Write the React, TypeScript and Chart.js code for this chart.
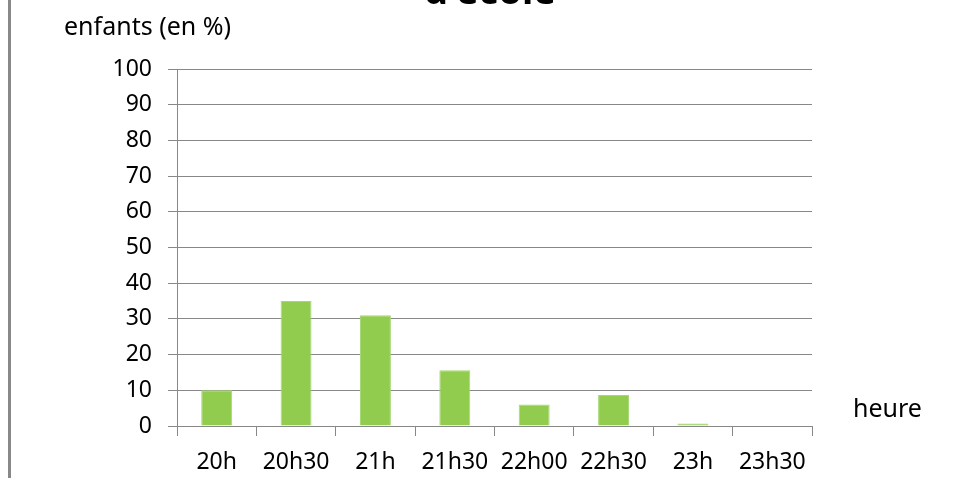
import React, { useEffect, useRef } from "react";
import { Chart, registerables } from "chart.js";

Chart.register(...registerables);

const categories = ["20h", "20h30", "21h", "21h30", "22h00", "22h30", "23h", "23h30"];
const values = [10, 35, 31, 15.6, 6, 8.7, 0.7, 0];
const yTicks = [0, 10, 20, 30, 40, 50, 60, 70, 80, 90, 100];
const titleText = "d'école";
const yTitle = "enfants (en %)";
const xTitle = "heure";

const FONT = "'Noto Sans', sans-serif";
const GRID = "#888888";

const decorPlugin = {
  id: "decor",
  afterDraw(chart: any) {
    const ctx = chart.ctx;
    ctx.save();
    // left border
    ctx.fillStyle = "#888888";
    ctx.fillRect(8, 0, 3, chart.height);
    // title (cut off at top)
    ctx.fillStyle = "#000000";
    ctx.font = `bold 38px ${FONT}`;
    ctx.textAlign = "center";
    ctx.textBaseline = "alphabetic";
    ctx.fillText(titleText, 490, 4);
    // axis titles
    ctx.font = `25px ${FONT}`;
    ctx.textAlign = "left";
    ctx.textBaseline = "middle";
    ctx.fillText(yTitle, 64, 28);
    ctx.fillText(xTitle, 853, 410);
    ctx.restore();
  },
};

export default function App() {
  const ref = useRef<HTMLCanvasElement>(null);
  useEffect(() => {
    if (!ref.current) return;
    const chart = new Chart(ref.current, {
      type: "bar",
      data: {
        labels: categories,
        datasets: [
          {
            data: values,
            backgroundColor: "#92CC4E",
            borderColor: "#A6D876",
            borderWidth: 1,
            barPercentage: 0.39,
            categoryPercentage: 1,
          },
        ],
      },
      options: {
        animation: false,
        responsive: false,
        maintainAspectRatio: false,
        layout: { padding: { left: 0, right: 146, top: 69, bottom: 0 } },
        plugins: {
          legend: { display: false },
          tooltip: { enabled: false },
          title: { display: false },
        },
        scales: {
          x: {
            offset: true,
            grid: {
              display: true,
              offset: true,
              drawOnChartArea: false,
              drawTicks: true,
              tickLength: 10,
              color: GRID,
              lineWidth: 1,
            },
            border: { display: true, color: GRID, width: 1 },
            ticks: {
              color: "#000000",
              font: { family: FONT, size: 23 },
              padding: 13,
              maxRotation: 0,
              autoSkip: false,
            },
            afterFit: (scale: any) => {
              scale.height = 52;
            },
          },
          y: {
            min: 0,
            max: 100,
            afterBuildTicks: (scale: any) => {
              scale.ticks = yTicks.map((v) => ({ value: v }));
            },
            grid: {
              color: GRID,
              lineWidth: 1,
              drawTicks: true,
              tickLength: 9,
            },
            border: { display: true, color: GRID, width: 1 },
            ticks: {
              color: "#000000",
              font: { family: FONT, size: 23 },
              padding: 16,
            },
            afterFit: (scale: any) => {
              scale.width = 177;
            },
          },
        },
      },
      plugins: [decorPlugin],
    });
    return () => chart.destroy();
  }, []);
  return (
    <div style={{ position: "fixed", left: 0, top: 0, width: 958, height: 478, background: "#ffffff" }}>
      <canvas ref={ref} width={958} height={478} style={{ width: 958, height: 478, display: "block" }} />
    </div>
  );
}
